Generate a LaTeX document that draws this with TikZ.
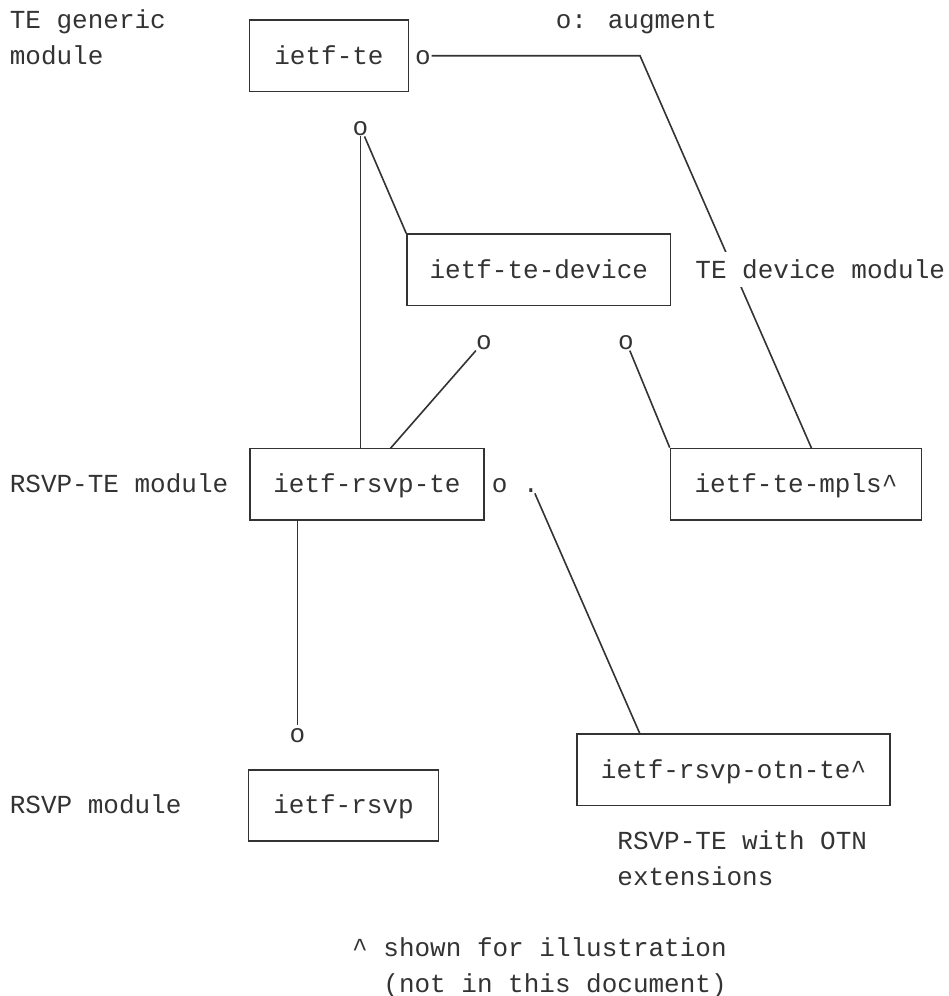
\documentclass[tikz,border=0pt]{standalone}
\usepackage{fontspec}
\newfontfamily\asciimono{Liberation Mono}
\usepackage{tikz}
\usetikzlibrary{arrows}
\definecolor{ink}{HTML}{333333}

\begin{document}
\begin{tikzpicture}[x=1pt, y=-1pt, ink, line width=1.6pt,
    every node/.style={font=\asciimono\fontsize{26}{30}\selectfont, text=ink, inner sep=0pt, text height=17pt, text depth=0pt},
    module node/.style={rectangle, draw=ink, line width=1.6pt, minimum height=71.4pt},
    side label/.style={anchor=west}]
        \path[fill=white, use as bounding box] (0,0) rectangle (948,996);

        % Modules
        \node[module node, minimum width=159pt] (te) at (329,55.7) {ietf-te};
        \node[module node, minimum width=263.5pt] (dev) at (538.8,269.9) {ietf-te-device};
        \node[module node, minimum width=234pt] (rsvpte) at (367,484.1) {ietf-rsvp-te};
        \node[module node, minimum width=251pt] (mpls) at (796,484.1) {ietf-te-mpls\textasciicircum};
        \node[module node, minimum width=313pt] (otn) at (733.6,769.7) {ietf-rsvp-otn-te\textasciicircum};
        \node[module node, minimum width=190pt] (rsvp) at (343.5,805.4) {ietf-rsvp};

        % Augment marks
        \node (teaug) at (423,55.7) {o};
        \node (tedown) at (360.5,127.1) {o};
        \node (devleft) at (484,341.3) {o};
        \node (devright) at (626,341.3) {o};
        \node (rsvpteaug) at (499.6,484.1) {o};
        \node (rsvptedot) at (530.8,484.1) {.};
        \node (rsvpaug) at (297.5,734) {o};

        \coordinate (augknee) at (640,55.7);
        \coordinate (mplsin) at (811.6,448.4);
        \coordinate (rsvptein) at (390.4,448.4);
        \coordinate (otnin) at (640,734);

        % Connectors between the modules
        \draw (teaug) -- (augknee) -- (mplsin);
        \path
        (tedown) edge (tedown |- rsvpte.north)
                 edge (dev.north west)
        (devleft) edge (rsvptein)
        (devright) edge (mpls.north west)
        (rsvptedot) edge (otnin)
        (rsvpaug |- rsvpte.south) edge (rsvpaug);

        % Labels
        \node[side label] (legend) at (555,20) {o: augment};
        \node[side label] (tegeneric) at (9,20) {TE generic};
        \node[side label] (tegenericb) at (9,55.7) {module};
        \node[side label, fill=white, inner ysep=9pt] (devlabel) at (694.6,269.9) {TE device module};
        \node[side label] (rsvptelabel) at (9,484.1) {RSVP-TE module};
        \node[side label] (rsvplabel) at (9,805.4) {RSVP module};
        \node[side label] (otnlabel) at (616.6,841.1) {RSVP-TE with OTN};
        \node[side label] (otnlabelb) at (616.6,876.8) {extensions};
        \node[side label] (note) at (351.4,948.2) {\textasciicircum{} shown for illustration};
        \node[side label] (noteb) at (382.6,983.9) {(not in this document)};
    \end{tikzpicture}
\end{document}
